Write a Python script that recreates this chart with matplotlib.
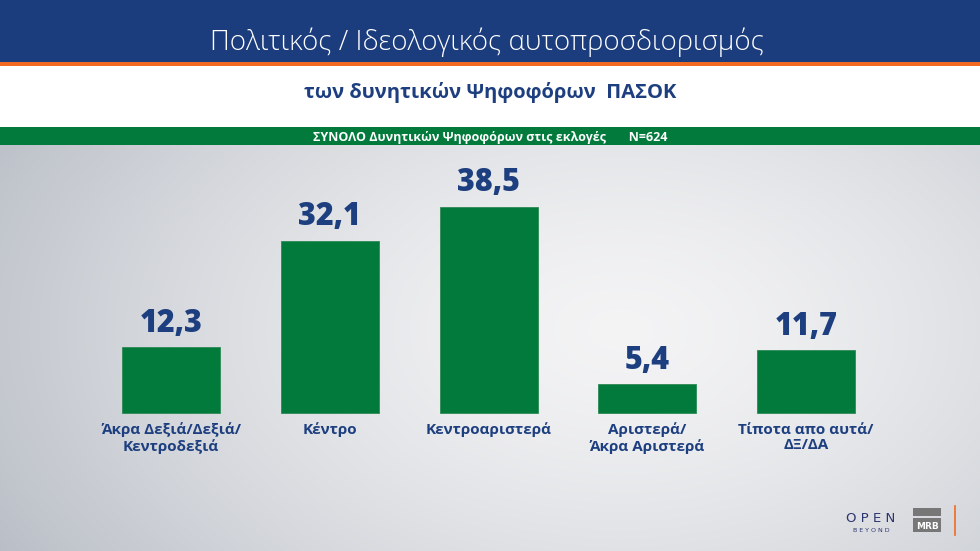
import numpy as np
import matplotlib.pyplot as plt
from matplotlib.patches import Rectangle

categories = ["Άκρα Δεξιά/Δεξιά/\nΚεντροδεξιά", "Κέντρο", "Κεντροαριστερά",
              "Αριστερά/\nΆκρα Αριστερά", "Τίποτα απο αυτά/\nΔΞ/ΔΑ"]
values = [12.3, 32.1, 38.5, 5.4, 11.7]
value_labels = ["12,3", "32,1", "38,5", "5,4", "11,7"]

title = "Πολιτικός / Ιδεολογικός αυτοπροσδιορισμός"
subtitle = "των δυνητικών Ψηφοφόρων  ΠΑΣΟΚ"
band_text = "ΣΥΝΟΛΟ Δυνητικών Ψηφοφόρων στις εκλογές       N=624"

NAVY = "#1b3c7d"
GREEN = "#017a3b"
ORANGE = "#f26a21"
TXT = "#1d3f80"

W, H = 980, 551
fig = plt.figure(figsize=(W / 100, H / 100), dpi=100)

# background gradient (bluish grey at the left, light in the middle)
bg = fig.add_axes([0, 0, 1, 1])
bg.set_axis_off()
yy, xx = np.mgrid[0:H, 0:W]
d = np.sqrt(((xx - 620) / 600.0) ** 2 + ((yy - 330) / 380.0) ** 2)
t = np.clip(d, 0, 1.2) ** 1.5
light = np.array([0.955, 0.955, 0.960])
dark = np.array([0.780, 0.795, 0.820])
img = light[None, None, :] * (1 - t[..., None]) + dark[None, None, :] * t[..., None]
bg.imshow(np.clip(img, 0, 1), extent=[0, W, H, 0], aspect="auto")
bg.set_xlim(0, W)
bg.set_ylim(H, 0)

# header bands
bg.add_patch(Rectangle((0, 0), W, 62, color=NAVY, lw=0))
bg.add_patch(Rectangle((0, 62), W, 4, color=ORANGE, lw=0))
bg.add_patch(Rectangle((0, 66), W, 61, color="white", lw=0))
bg.add_patch(Rectangle((0, 127), W, 18, color=GREEN, lw=0))

bg.text(W / 2 - 3, 50, title, color="white", fontsize=20, ha="center", va="baseline",
        family="Open Sans", fontweight="light")
bg.text(W / 2, 98, subtitle, color=TXT, fontsize=14.5, ha="center", va="baseline",
        family="Open Sans", fontweight="bold")
bg.text(W / 2, 140.5, band_text, color="white", fontsize=9, ha="center", va="baseline",
        family="Open Sans", fontweight="bold")

# logos
bg.text(871, 522, "O P E N", color="#2d3570", fontsize=9.5, ha="center", va="baseline",
        family="DejaVu Sans")
bg.text(871, 532, "B E Y O N D", color="#2d3570", fontsize=4.5, ha="center", va="baseline",
        family="DejaVu Sans")
bg.add_patch(Rectangle((913, 508), 28, 8, color="#777777", lw=0))
bg.add_patch(Rectangle((913, 518), 28, 14, color="#777777", lw=0))
bg.text(927, 529, "MRB", color="white", fontsize=6.5, ha="center", va="baseline",
        fontweight="bold")
bg.plot([955, 955], [506, 535], color=ORANGE, lw=1.2)

# chart
ax = fig.add_axes([0, 0, 1, (H - 146) / H])
ax.patch.set_alpha(0)
x = np.arange(len(values))
px_per_unit = 5.36
spacing = 158.75
ax.set_xlim(-171 / spacing, (W - 171) / spacing)
ax.set_ylim(-(H - 413) / px_per_unit, (413 - 146) / px_per_unit)
ax.set_axis_off()

ax.bar(x, values, width=98 / spacing, color=GREEN, edgecolor="#2e8a55", lw=0.6)
for xi, v, lab in zip(x, values, value_labels):
    ax.text(xi, v + 1.4, lab, color=TXT, fontsize=22, fontweight="heavy", ha="center",
            va="bottom", family="Open Sans")
for xi, cat in zip(x, categories):
    ax.text(xi, -1.8, cat, color=TXT, fontsize=11, fontweight="bold", ha="center",
            va="top", family="Open Sans", linespacing=1.15)

fig.savefig("out.png", dpi=100)
